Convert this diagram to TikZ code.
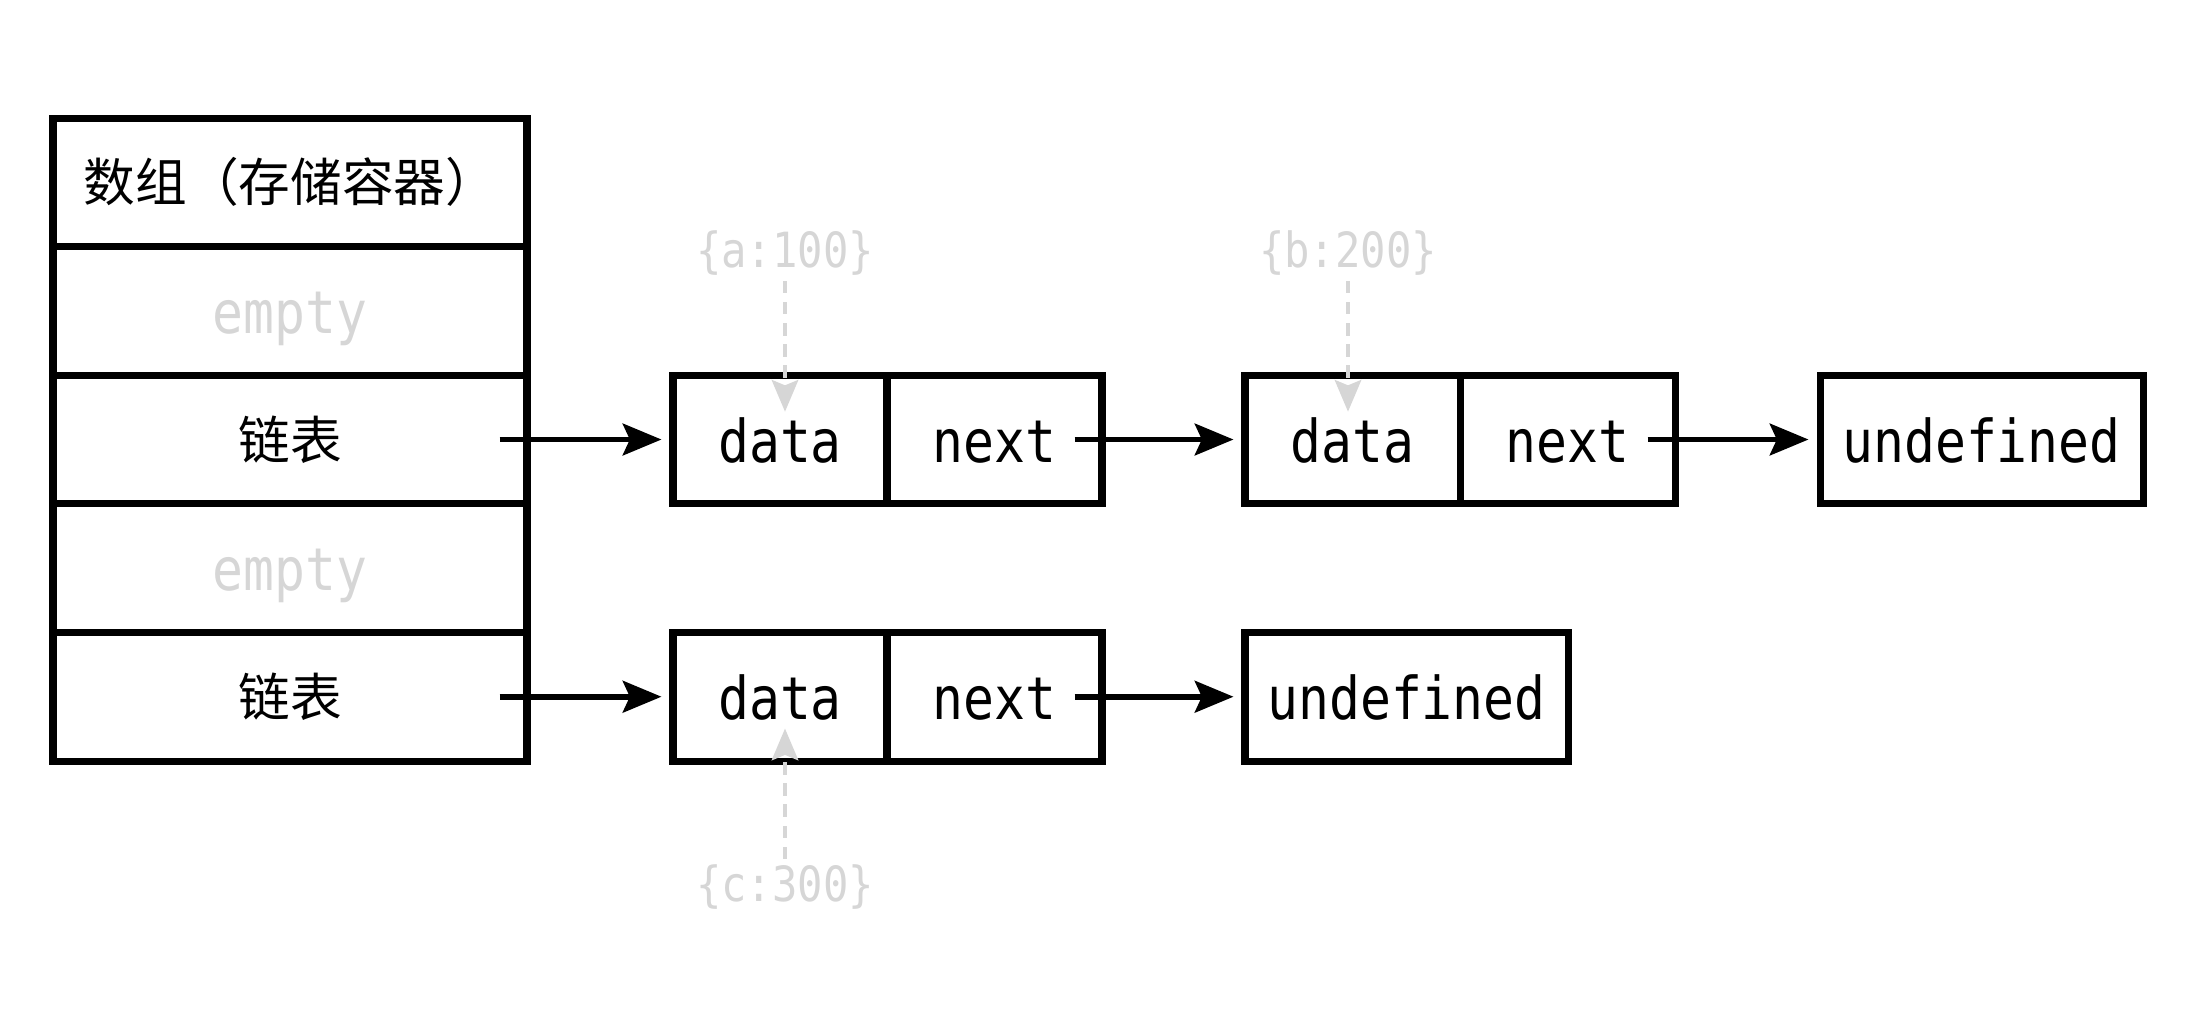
\documentclass[tikz,border=0pt]{standalone}
\usepackage{fontspec}
\newfontfamily\cjk{Noto Sans CJK SC}
\newfontfamily\codefont[FakeStretch=0.87]{DejaVu Sans Mono}
\usetikzlibrary{arrows.meta}
\definecolor{faint}{RGB}{214,214,214}
\tikzset{
  cell/.style={draw,line width=2pt,minimum width=4.74cm,minimum height=1.286cm,inner sep=0pt},
  hanzi/.style={font=\cjk\fontsize{14.7}{17}\selectfont},
  code/.style={font=\codefont\fontsize{16.8}{20}\selectfont,text height=12.8pt,text depth=0pt},
  box/.style={draw,line width=2pt,minimum height=1.286cm,inner sep=0pt,code},
  link/.style={line width=1.6pt,-{Stealth[length=11pt,width=9pt,inset=2pt]},shorten >=0.08cm},
  ref/.style={faint,line width=1.2pt,dash pattern=on 3.5pt off 2.5pt,-{Stealth[length=9pt,width=7.5pt,inset=1.5pt]}},
  key/.style={text=faint,font=\codefont\fontsize{13.8}{16}\selectfont,inner sep=0pt}
}
\begin{document}
\begin{tikzpicture}
\useasboundingbox (0,0) rectangle (22.02,-10.12);
% array
\node[cell,hanzi,text width=4.12cm,align=left] (head) at (2.90,-1.823) {数组（存储容器）};
\node[cell,code,text=faint] (slot1) at (2.90,-3.109) {empty};
\node[cell,hanzi] (slot2) at (2.90,-4.395) {链表};
\node[cell,code,text=faint] (slot3) at (2.90,-5.681) {empty};
\node[cell,hanzi] (slot4) at (2.90,-6.967) {链表};
% first list
\node[box,minimum width=2.14cm] (data1) at (7.80,-4.395) {data};
\node[box,minimum width=2.15cm] (next1) at (9.945,-4.395) {next};
\node[box,minimum width=2.15cm] (data2) at (13.525,-4.395) {data};
\node[box,minimum width=2.15cm] (next2) at (15.675,-4.395) {next};
\node[box,minimum width=3.23cm] (nil1) at (19.815,-4.395) {undefined};
% second list
\node[box,minimum width=2.14cm] (data3) at (7.80,-6.967) {data};
\node[box,minimum width=2.15cm] (next3) at (9.945,-6.967) {next};
\node[box,minimum width=3.23cm] (nil2) at (14.065,-6.967) {undefined};
% pointers
\draw[link] ([xshift=-0.31cm]slot2.east) -- (data1.west);
\draw[link] ([xshift=-0.31cm]next1.east) -- (data2.west);
\draw[link] ([xshift=-0.31cm]next2.east) -- (nil1.west);
\draw[link] ([xshift=-0.31cm]slot4.east) -- (data3.west);
\draw[link] ([xshift=-0.31cm]next3.east) -- (nil2.west);
% stored values
\node[key] (ka) at (7.85,-2.53) {\{a:100\}};
\node[key] (kb) at (13.48,-2.53) {\{b:200\}};
\node[key] (kc) at (7.85,-8.87) {\{c:300\}};
\draw[ref] ([yshift=-0.05cm]ka.south) -- ([yshift=-0.40cm]ka.south |- data1.north);
\draw[ref] ([yshift=-0.05cm]kb.south) -- ([yshift=-0.40cm]kb.south |- data2.north);
\draw[ref] ([yshift=0.05cm]kc.north) -- ([yshift=0.36cm]kc.north |- data3.south);
\end{tikzpicture}
\end{document}
